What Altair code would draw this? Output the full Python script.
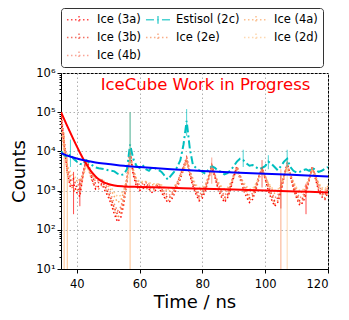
import altair as alt
import pandas as pd

# ---------------- data ----------------
time_ns = list(range(35, 121))

ice_3a = [90000, 15000, 3000, 1200, 1500, 900, 700, 2500, 6000, 3500,
          1800, 1100, 1300, 1500, 1000, 700, 450, 250, 160, 200,
          450, 1800, 9000, 2500, 1300, 1000, 1100, 1300, 1100, 900,
          1000, 1200, 900, 650, 500, 550, 800, 1200, 2000, 3500,
          6000, 2500, 1300, 800, 550, 650, 1000, 2000, 4000, 2200,
          1100, 700, 500, 650, 1100, 2200, 3800, 2000, 1100, 700,
          500, 600, 1000, 2000, 3500, 2000, 1000, 600, 400, 500,
          900, 2200, 4500, 2300, 1100, 650, 420, 500, 800, 1800,
          3800, 2000, 1000, 700, 600, 900]
ice_3b = [100000, 20000, 4000, 1800, 2000, 1200, 1000, 3000, 6500, 4000,
          2200, 1500, 1600, 1800, 1300, 900, 600, 350, 250, 300,
          600, 2200, 10000, 3000, 1600, 1300, 1300, 1500, 1300, 1100,
          1200, 1400, 1100, 800, 650, 700, 1000, 1500, 2500, 4200,
          7000, 3000, 1600, 1000, 700, 800, 1200, 2300, 4500, 2500,
          1300, 900, 650, 800, 1300, 2500, 4200, 2300, 1300, 900,
          650, 750, 1200, 2300, 3800, 2300, 1200, 800, 550, 650,
          1100, 2500, 5000, 2600, 1300, 800, 550, 650, 1000, 2000,
          4200, 2300, 1200, 850, 750, 1100]
ice_4b = [60000, 12000, 3500, 2000, 1700, 1500, 1300, 2800, 5500, 3800,
          2400, 1700, 1800, 1900, 1500, 1100, 750, 450, 300, 380,
          700, 2000, 8000, 3200, 1800, 1400, 1500, 1600, 1400, 1200,
          1300, 1500, 1200, 900, 750, 800, 1100, 1600, 2600, 4000,
          6500, 3200, 1800, 1100, 800, 900, 1300, 2400, 4200, 2600,
          1500, 1000, 750, 900, 1400, 2600, 4000, 2500, 1500, 1000,
          750, 850, 1300, 2400, 3600, 2400, 1400, 900, 650, 750,
          1200, 2600, 4600, 2800, 1500, 900, 650, 750, 1100, 2200,
          4000, 2500, 1400, 950, 850, 1200]
ice_2e = [80000, 18000, 2500, 1500, 1000, 1100, 900, 2200, 5800, 3000,
          1600, 1300, 1100, 1400, 1200, 800, 550, 300, 200, 260,
          550, 1600, 9500, 2800, 1500, 1100, 1200, 1200, 1000, 1000,
          1100, 1300, 1000, 700, 550, 650, 900, 1300, 2200, 3800,
          6500, 2800, 1400, 900, 600, 750, 1100, 2100, 4300, 2400,
          1200, 800, 550, 700, 1200, 2400, 4000, 2100, 1200, 800,
          550, 700, 1100, 2100, 3700, 2100, 1100, 700, 450, 550,
          1000, 2300, 4800, 2400, 1200, 700, 480, 600, 900, 1900,
          4000, 2200, 1100, 800, 650, 1000]
ice_4a = [50000, 10000, 4000, 2500, 2000, 1800, 1500, 2500, 4500, 3500,
          2500, 2000, 1900, 1800, 1600, 1300, 1000, 700, 500, 550,
          900, 2000, 7000, 3500, 2000, 1600, 1600, 1700, 1500, 1400,
          1400, 1500, 1300, 1100, 950, 1000, 1200, 1600, 2400, 3500,
          5500, 3200, 2000, 1300, 1000, 1100, 1400, 2200, 3600, 2500,
          1600, 1200, 950, 1100, 1500, 2300, 3400, 2400, 1600, 1200,
          950, 1000, 1400, 2200, 3200, 2300, 1500, 1100, 850, 950,
          1300, 2400, 3800, 2600, 1600, 1100, 850, 950, 1300, 2100,
          3500, 2400, 1500, 1100, 1000, 1300]
ice_2d = [40000, 9000, 4500, 3000, 2400, 2000, 1800, 2400, 4000, 3200,
          2400, 2100, 2000, 1900, 1700, 1500, 1200, 900, 700, 750,
          1100, 2100, 6000, 3200, 2100, 1700, 1700, 1700, 1600, 1500,
          1500, 1500, 1400, 1200, 1100, 1100, 1300, 1600, 2200, 3200,
          4800, 3000, 2000, 1400, 1200, 1200, 1500, 2100, 3200, 2400,
          1700, 1300, 1100, 1200, 1600, 2200, 3000, 2300, 1700, 1300,
          1100, 1100, 1500, 2100, 2900, 2200, 1600, 1200, 1000, 1050,
          1400, 2200, 3300, 2400, 1700, 1200, 1000, 1050, 1400, 2000,
          3100, 2300, 1600, 1200, 1100, 1400]
estisol_2c = [10000, 8000, 7000, 8500, 6500, 5500, 4800, 4600, 6000, 5200,
              4400, 3900, 3700, 3600, 3500, 3300, 3200, 3100, 2700, 2500,
              2600, 3500, 15000, 6500, 4300, 3800, 4500, 3500, 3200, 4000,
              3700, 3400, 3000, 2400, 1900, 2400, 3000, 4000, 6000, 15000,
              60000, 12000, 4500, 3800, 3300, 3000, 2700, 3500, 4200, 3800,
              3200, 3000, 2600, 2800, 3300, 4200, 5500, 6500, 6000, 5000,
              4300, 4500, 4000, 3500, 3800, 4200, 5500, 4800, 4000, 3300,
              4200, 5500, 6500, 4000, 3200, 2900, 3000, 3300, 3500, 3200,
              3800, 3400, 3000, 3200, 3600, 4000]

series_names = ["Ice (3a)", "Estisol (2c)", "Ice (4a)", "Ice (3b)",
                "Ice (2e)", "Ice (2d)", "Ice (4b)"]
series_values = [ice_3a, estisol_2c, ice_4a, ice_3b, ice_2e, ice_2d, ice_4b]
series_colors = ["#ff0000", "#00bfbf", "#fba560", "#ee3322",
                 "#f78a55", "#fdc890", "#f8806a"]
series_dashes = [[1.5, 2.5], [8, 3, 2, 3], [1.5, 2.5], [1.5, 2.5],
                 [1.5, 2.5], [1.5, 2.5], [1.5, 2.5]]

# error bars (selected visible ones)
err_series = ["Ice (4a)", "Ice (4a)", "Ice (4a)", "Ice (2e)", "Ice (2d)",
              "Ice (3a)", "Ice (3a)", "Ice (3a)", "Ice (3b)",
              "Estisol (2c)", "Estisol (2c)", "Estisol (2c)", "Estisol (2c)",
              "Estisol (2c)", "Estisol (2c)", "Ice (4b)", "Ice (3b)"]
err_time = [36, 37, 57, 105, 107, 39, 41, 113, 105,
            38, 57, 75, 93, 107, 101, 83, 99]
err_lo = [10, 10, 10, 10, 10, 250, 400, 250, 350,
          4000, 5000, 25000, 4000, 4000, 3500, 1500, 1200]
err_hi = [30000, 9000, 100000, 3500, 6000, 3000, 2000, 1500, 2500,
          20000, 100000, 120000, 11000, 11000, 8000, 7000, 6000]

# fit curves
fit_red_t = [35, 36, 37, 38, 39, 40, 41, 42, 43, 44, 45, 46, 47, 48, 49, 50,
             52, 55, 60, 70, 80, 90, 100, 110, 120]
fit_red_v = [100000, 66300, 44200, 29600, 19900, 13600, 9400, 6630, 4820,
             3610, 2820, 2300, 1950, 1720, 1570, 1470, 1350, 1280, 1240,
             1180, 1120, 1060, 1000, 950, 900]
fit_blue_t = [35, 37, 40, 43, 46, 50, 55, 60, 70, 80, 90, 100, 110, 120]
fit_blue_v = [9000, 7800, 6600, 5800, 5200, 4800, 4300, 4000, 3500, 3150,
              2900, 2700, 2500, 2300]

note_text = ["IceCube Work in Progress"]
note_t = [81.0]
note_v = [377000]

y_ticks = [m * 10 ** e for e in range(1, 6) for m in range(1, 10)] + [10 ** 6]
x_ticks = [40, 60, 80, 100, 120]

# ---------------- frames ----------------
rows = []
for name, vals in zip(series_names, series_values):
    for t, v in zip(time_ns, vals):
        rows.append({"t": t, "v": v, "series": name})
df = pd.DataFrame(rows)

err_df = pd.DataFrame({"t": err_time, "lo": err_lo, "hi": err_hi, "series": err_series})
red_df = pd.DataFrame({"t": fit_red_t, "v": fit_red_v})
blue_df = pd.DataFrame({"t": fit_blue_t, "v": fit_blue_v})
note_df = pd.DataFrame({"t": note_t, "v": note_v, "label": note_text})

FONT = "DejaVu Sans"
major = "abs(log(datum.value)/LN10 - round(log(datum.value)/LN10)) < 0.001"
sup = "['\u2070','\u00b9','\u00b2','\u00b3','\u2074','\u2075','\u2076'][round(log(datum.value)/LN10)]"

xscale = alt.Scale(domain=[35, 120], nice=False, zero=False)
yscale = alt.Scale(type="log", domain=[10, 1e6], nice=False)

xaxis = alt.Axis(values=x_ticks, title="Time / ns", grid=True, gridDash=[1.5, 2.5],
                 gridColor="#b0b0b0", tickSize=4, labelPadding=5, titlePadding=4)
yaxis = alt.Axis(values=y_ticks, title="Counts", grid=True, gridDash=[1.5, 2.5],
                 gridColor="#b0b0b0",
                 gridOpacity={"condition": {"test": major, "value": 1}, "value": 0},
                 tickSize={"condition": {"test": major, "value": 4}, "value": 2},
                 labelExpr=f"({major}) ? '10' + {sup} : ''",
                 labelOverlap=False, labelPadding=2, titlePadding=7)

# symbol: 24px line with an error-bar tick; layout size kept at 13px so rows stay compact
legend = alt.Legend(title=None, orient="none", legendX=0, legendY=-65, columns=3,
                    direction="horizontal",
                    symbolType="M-0.85,0H2.85M1,-0.6V0.6", symbolSize=169,
                    symbolStrokeWidth=1.5, labelFont=FONT, labelFontSize=11.5,
                    labelColor="black", labelOffset=17, columnPadding=0,
                    rowPadding=3, padding=4, strokeColor="#333333",
                    fillColor="white", cornerRadius=3, labelLimit=0)

cscale = alt.Scale(domain=series_names, range=series_colors)
dscale = alt.Scale(domain=series_names, range=series_dashes)
color = alt.Color("series:N", scale=cscale, legend=legend)
dash = alt.StrokeDash("series:N", scale=dscale, legend=legend)

x = alt.X("t:Q", scale=xscale, axis=xaxis)
y = alt.Y("v:Q", scale=yscale, axis=yaxis)

ice_lines = alt.Chart(df).transform_filter("datum.series != 'Estisol (2c)'").mark_line(
    strokeWidth=1.5, clip=True).encode(x=x, y=y, color=color, strokeDash=dash,
                                       order="t:Q")
cyan_line = alt.Chart(df).transform_filter("datum.series == 'Estisol (2c)'").mark_line(
    strokeWidth=2, clip=True).encode(x=x, y=y, color=color, strokeDash=dash, order="t:Q")

errs = alt.Chart(err_df).mark_rule(strokeWidth=1, opacity=0.7, clip=True).encode(
    x=alt.X("t:Q", scale=xscale), y=alt.Y("lo:Q", scale=yscale), y2="hi:Q",
    color=color)

red_fit = alt.Chart(red_df).mark_line(color="#ff0000", strokeWidth=2, interpolate="monotone",
                                      clip=True).encode(x=alt.X("t:Q", scale=xscale),
                                                        y=alt.Y("v:Q", scale=yscale))
blue_fit = alt.Chart(blue_df).mark_line(color="#0000ff", strokeWidth=2, interpolate="monotone",
                                        clip=True).encode(x=alt.X("t:Q", scale=xscale),
                                                          y=alt.Y("v:Q", scale=yscale))
note = alt.Chart(note_df).mark_text(color="#ff0000", font=FONT, fontSize=16.5,
                                    align="center", baseline="alphabetic").encode(
    x=alt.X("t:Q", scale=xscale), y=alt.Y("v:Q", scale=yscale), text="label:N")

chart = alt.layer(ice_lines, cyan_line, errs, red_fit, blue_fit, note).properties(
    width=267, height=196,
    autosize=alt.AutoSizeParams(type="none"),
    padding={"left": 53, "top": 65, "right": 13, "bottom": 43},
).configure_view(stroke="black", strokeWidth=1).configure_axis(
    labelFont=FONT, labelFontSize=11.5, labelColor="black", titleFont=FONT,
    titleFontSize=18, titleFontWeight="normal", titleColor="black",
    domainColor="black", tickColor="black")

chart.save("out.html", embed_options={"renderer": "svg", "actions": False})
